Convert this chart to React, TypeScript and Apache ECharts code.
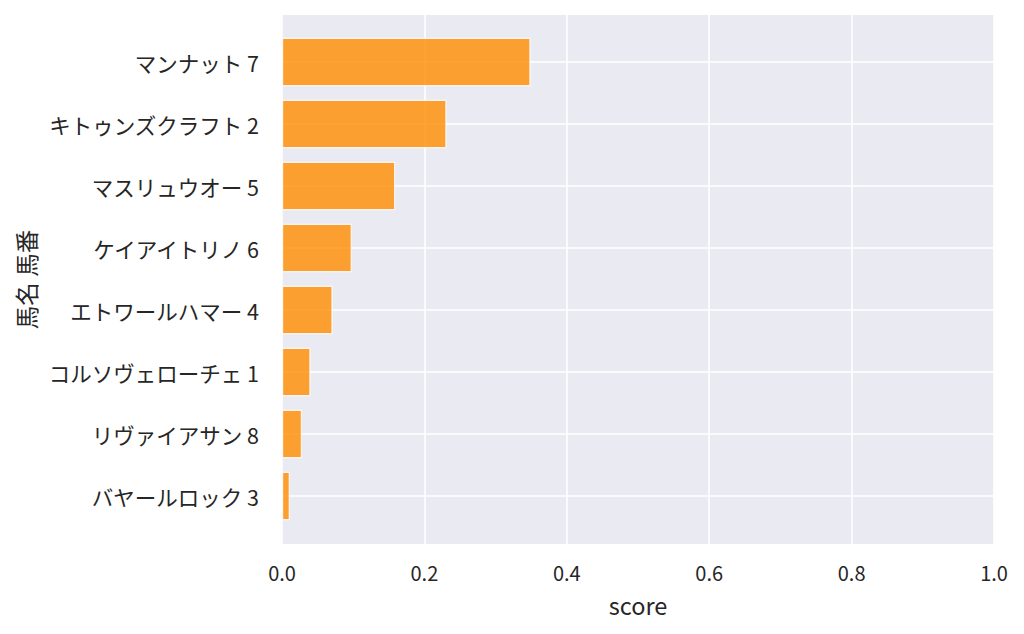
import React, { useEffect, useRef } from "react";
import * as echarts from "echarts";

const categories = [
  "マンナット 7",
  "キトゥンズクラフト 2",
  "マスリュウオー 5",
  "ケイアイトリノ 6",
  "エトワールハマー 4",
  "コルソヴェローチェ 1",
  "リヴァイアサン 8",
  "バヤールロック 3",
];
const scores = [0.349, 0.231, 0.159, 0.098, 0.071, 0.04, 0.028, 0.011];
const xTicks = [0, 0.2, 0.4, 0.6, 0.8, 1.0];
const xName = "score";
const yName = "馬名 馬番";

const FONT = '"Noto Sans CJK JP", "Noto Sans", sans-serif';
const TEXT = "#262626";

export default function App() {
  const ref = useRef<HTMLDivElement>(null);
  useEffect(() => {
    if (!ref.current) return;
    const chart = echarts.init(ref.current, undefined, { renderer: "svg" });
    chart.setOption({
      animation: false,
      textStyle: { fontFamily: FONT },
      grid: [
        {
          left: 282,
          right: 30,
          top: 15,
          bottom: 90,
          show: true,
          backgroundColor: "#EAEAF2",
          borderWidth: 0,
        },
        { left: 282, right: 30, top: 62, bottom: 138 },
      ],
      xAxis: [
        {
          gridIndex: 0,
          type: "value",
          min: xTicks[0],
          max: xTicks[xTicks.length - 1],
          interval: 0.2,
          axisLine: { show: false },
          axisTick: { show: false },
          splitLine: { show: true, lineStyle: { color: "#FFFFFF", width: 1.6 } },
          axisLabel: {
            color: TEXT,
            fontSize: 20,
            fontFamily: FONT,
            margin: 18,
            formatter: (v: number) => v.toFixed(1),
          },
          name: xName,
          nameLocation: "middle",
          nameGap: 49,
          nameTextStyle: { color: TEXT, fontSize: 23.5, fontFamily: FONT },
        },
        {
          gridIndex: 1,
          type: "value",
          min: 0,
          max: 1,
          show: false,
        },
      ],
      yAxis: [
        {
          gridIndex: 0,
          type: "value",
          min: 0,
          max: 1,
          axisLine: { show: false },
          axisTick: { show: false },
          axisLabel: { show: false },
          splitLine: { show: false },
          name: yName,
          nameLocation: "middle",
          nameGap: 244,
          nameRotate: 90,
          nameTextStyle: { color: TEXT, fontSize: 23.5, fontFamily: FONT },
        },
        {
          gridIndex: 1,
          type: "category",
          data: categories,
          inverse: true,
          boundaryGap: false,
          axisLine: { show: false },
          axisTick: { show: false },
          splitLine: { show: true, lineStyle: { color: "#FFFFFF", width: 1.6 } },
          axisLabel: { color: TEXT, fontSize: 21.5, fontFamily: FONT, margin: 23 },
        },
      ],
      series: [
        {
          type: "bar",
          xAxisIndex: 1,
          yAxisIndex: 1,
          data: scores,
          barWidth: "78%",
          clip: false,
          itemStyle: {
            color: "rgba(255,140,0,0.8)",
            borderColor: "rgba(255,255,255,0.8)",
            borderWidth: 1.2,
          },
        },
      ],
    });
    return () => chart.dispose();
  }, []);
  return <div ref={ref} style={{ width: 1024, height: 634, marginLeft: -8, marginTop: -8 }} />;
}
